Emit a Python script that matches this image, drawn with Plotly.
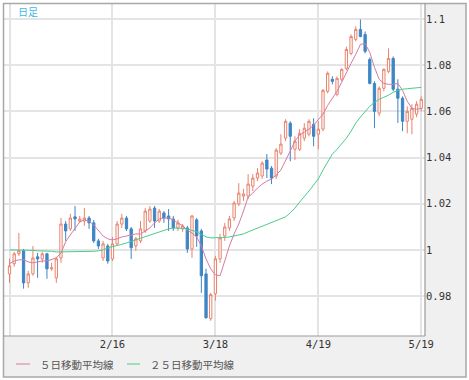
import plotly.graph_objects as go

# ---- data ----
opens = [0.9896, 0.9940, 0.9983, 0.9996, 0.9857, 0.9896, 0.9970, 0.9961, 0.9983, 0.9918,
         0.9879, 0.9965, 1.0112, 1.0091, 1.0143, 1.0125, 1.0125, 1.0138, 1.0117, 1.0039,
         0.9965, 1.0017, 0.9961, 1.0026, 1.0112, 1.0138, 1.0091, 1.0017, 1.0039, 1.0082,
         1.0125, 1.0181, 1.0125, 1.0160, 1.0147, 1.0134, 1.0095, 1.0091, 1.0095, 1.0004,
         1.0130, 1.0082, 0.9896, 0.9702, 0.9810, 0.9961, 1.0060, 1.0095, 1.0138, 1.0199,
         1.0233, 1.0233, 1.0276, 1.0311, 1.0320, 1.0389, 1.0354, 1.0320, 1.0419, 1.0484,
         1.0549, 1.0436, 1.0436, 1.0484, 1.0501, 1.0544, 1.0501, 1.0523, 1.0687, 1.0739,
         1.0674, 1.0739, 1.0786, 1.0851, 1.0912, 1.0955, 1.0933, 1.0825, 1.0721, 1.0592,
         1.0700, 1.0773, 1.0829, 1.0696, 1.0657, 1.0557, 1.0566, 1.0588, 1.0613]
highs = [0.9961, 0.9991, 1.0073, 1.0004, 0.9909, 1.0017, 0.9987, 0.9991, 0.9987, 0.9944,
         0.9970, 1.0138, 1.0125, 1.0156, 1.0190, 1.0147, 1.0181, 1.0147, 1.0130, 1.0048,
         1.0039, 1.0026, 1.0056, 1.0125, 1.0156, 1.0147, 1.0099, 1.0056, 1.0125, 1.0181,
         1.0190, 1.0190, 1.0177, 1.0168, 1.0177, 1.0147, 1.0130, 1.0112, 1.0104, 1.0151,
         1.0138, 1.0091, 0.9918, 0.9814, 0.9974, 1.0069, 1.0117, 1.0147, 1.0212, 1.0289,
         1.0264, 1.0328, 1.0328, 1.0354, 1.0384, 1.0415, 1.0363, 1.0441, 1.0501, 1.0566,
         1.0557, 1.0492, 1.0523, 1.0549, 1.0566, 1.0570, 1.0557, 1.0696, 1.0773, 1.0752,
         1.0752, 1.0786, 1.0880, 1.0933, 1.0968, 1.0998, 1.0946, 1.0834, 1.0730, 1.0708,
         1.0786, 1.0873, 1.0838, 1.0739, 1.0665, 1.0622, 1.0631, 1.0644, 1.0665]
lows = [0.9857, 0.9927, 0.9974, 0.9832, 0.9836, 0.9888, 0.9879, 0.9944, 0.9875, 0.9909,
        0.9857, 0.9944, 1.0039, 1.0082, 1.0082, 1.0117, 1.0104, 1.0091, 1.0030, 1.0004,
        0.9952, 0.9940, 0.9952, 1.0017, 1.0095, 1.0082, 0.9961, 0.9996, 1.0030, 1.0073,
        1.0117, 1.0095, 1.0117, 1.0117, 1.0082, 1.0082, 1.0082, 1.0078, 0.9987, 0.9965,
        1.0013, 0.9814, 0.9702, 0.9693, 0.9780, 0.9944, 1.0039, 1.0082, 1.0125, 1.0190,
        1.0212, 1.0220, 1.0255, 1.0298, 1.0307, 1.0311, 1.0285, 1.0307, 1.0410, 1.0471,
        1.0384, 1.0389, 1.0428, 1.0471, 1.0492, 1.0449, 1.0436, 1.0514, 1.0678, 1.0717,
        1.0665, 1.0730, 1.0778, 1.0843, 1.0903, 1.0921, 1.0851, 1.0717, 1.0527, 1.0579,
        1.0687, 1.0765, 1.0687, 1.0550, 1.0514, 1.0505, 1.0501, 1.0575, 1.0600]
closes = [0.9931, 0.9983, 0.9996, 0.9857, 0.9896, 0.9965, 0.9961, 0.9983, 0.9918, 0.9922,
          0.9961, 1.0112, 1.0082, 1.0138, 1.0134, 1.0134, 1.0138, 1.0117, 1.0039, 1.0017,
          1.0026, 0.9952, 1.0026, 1.0112, 1.0138, 1.0091, 1.0009, 1.0048, 1.0091, 1.0168,
          1.0177, 1.0125, 1.0168, 1.0138, 1.0134, 1.0095, 1.0117, 1.0104, 1.0004, 1.0147,
          1.0060, 0.9888, 0.9706, 0.9806, 0.9961, 1.0052, 1.0099, 1.0134, 1.0203, 1.0246,
          1.0242, 1.0285, 1.0311, 1.0333, 1.0376, 1.0350, 1.0311, 1.0432, 1.0458, 1.0557,
          1.0492, 1.0471, 1.0505, 1.0527, 1.0557, 1.0492, 1.0523, 1.0691, 1.0765, 1.0730,
          1.0743, 1.0782, 1.0868, 1.0924, 1.0955, 1.0924, 1.0860, 1.0721, 1.0600, 1.0700,
          1.0782, 1.0829, 1.0696, 1.0657, 1.0557, 1.0600, 1.0613, 1.0631, 1.0652]
ma5 = [0.9940, 0.9952, 0.9957, 0.9957, 0.9948, 0.9944, 0.9948, 0.9952, 0.9952, 0.9957,
       0.9965, 0.9987, 1.0035, 1.0065, 1.0095, 1.0121, 1.0130, 1.0125, 1.0108, 1.0082,
       1.0060, 1.0048, 1.0043, 1.0048, 1.0056, 1.0060, 1.0065, 1.0069, 1.0069, 1.0082,
       1.0095, 1.0117, 1.0134, 1.0138, 1.0138, 1.0130, 1.0117, 1.0104, 1.0086, 1.0073,
       1.0056, 1.0017, 0.9961, 0.9918, 0.9892, 0.9888, 0.9952, 1.0017, 1.0069, 1.0112,
       1.0168, 1.0229, 1.0246, 1.0268, 1.0285, 1.0298, 1.0307, 1.0324, 1.0346, 1.0384,
       1.0428, 1.0471, 1.0497, 1.0510, 1.0523, 1.0540, 1.0562, 1.0588, 1.0626, 1.0657,
       1.0687, 1.0726, 1.0769, 1.0808, 1.0847, 1.0890, 1.0894, 1.0855, 1.0791, 1.0739,
       1.0721, 1.0717, 1.0717, 1.0721, 1.0691, 1.0644, 1.0613, 1.0609, 1.0613]
ma25 = [1.0000, 1.0000, 1.0000, 1.0000, 1.0000, 0.9998, 0.9996, 0.9996, 0.9996, 0.9994,
        0.9991, 0.9991, 0.9991, 0.9991, 0.9991, 0.9991, 0.9991, 0.9991, 0.9994, 0.9996,
        1.0000, 1.0009, 1.0013, 1.0017, 1.0024, 1.0030, 1.0037, 1.0043, 1.0050, 1.0056,
        1.0063, 1.0069, 1.0078, 1.0084, 1.0091, 1.0095, 1.0095, 1.0093, 1.0091, 1.0084,
        1.0078, 1.0067, 1.0056, 1.0052, 1.0052, 1.0052, 1.0054, 1.0056, 1.0060, 1.0065,
        1.0069, 1.0078, 1.0086, 1.0095, 1.0104, 1.0110, 1.0117, 1.0125, 1.0134, 1.0143,
        1.0160, 1.0181, 1.0207, 1.0229, 1.0255, 1.0281, 1.0307, 1.0346, 1.0380, 1.0415,
        1.0436, 1.0458, 1.0484, 1.0514, 1.0549, 1.0575, 1.0600, 1.0622, 1.0639, 1.0652,
        1.0661, 1.0670, 1.0683, 1.0691, 1.0696, 1.0698, 1.0700, 1.0702, 1.0704]

series_names = ["５日移動平均線", "２５日移動平均線"]
period_label = "日足"
x_tick_pos = [0, 22, 44, 66, 88]
x_tick_labels = ["", "2/16", "3/18", "4/19", "5/19"]
y_tick_vals = [1.1, 1.08, 1.06, 1.04, 1.02, 1.0, 0.98]
y_tick_labels = ["1.1", "1.08", "1.06", "1.04", "1.02", "1", "0.98"]

n = len(opens)
assert all(len(a) == n for a in (highs, lows, closes, ma5, ma25)), [len(a) for a in (opens, highs, lows, closes, ma5, ma25)]
xs = list(range(n))

UP = "#e8836c"
DOWN = "#3d86c6"
MA5_C = "#d57ba3"
MA25_C = "#4ccb8c"

fig = go.Figure()
fig.add_trace(go.Candlestick(
    x=xs, open=opens, high=highs, low=lows, close=closes,
    increasing=dict(line=dict(color=UP, width=1), fillcolor="white"),
    decreasing=dict(line=dict(color=DOWN, width=1), fillcolor=DOWN),
    whiskerwidth=0, showlegend=False, hoverinfo="skip"))
fig.add_trace(go.Scatter(x=xs, y=ma5, mode="lines", line=dict(color=MA5_C, width=1),
                         name=series_names[0], showlegend=False, hoverinfo="skip"))
fig.add_trace(go.Scatter(x=xs, y=ma25, mode="lines", line=dict(color=MA25_C, width=1),
                         name=series_names[1], showlegend=False, hoverinfo="skip"))

# pixel -> paper helpers (plot area: x 4..425, y 4..336)
L, R, T, B = 4, 425, 4, 336
def px(xp):
    return (xp - L) / (R - L)
def py(yp):
    return (B - yp) / (B - T)

shapes = [
    dict(type="rect", xref="paper", yref="paper", x0=px(R), x1=px(466), y0=py(377), y1=py(3),
         fillcolor="#f0f0f0", line=dict(width=0), layer="below"),
    dict(type="rect", xref="paper", yref="paper", x0=px(3), x1=px(466), y0=py(377), y1=py(B),
         fillcolor="#f0f0f0", line=dict(width=0), layer="below"),
    dict(type="rect", xref="paper", yref="paper", x0=px(3.5), x1=px(466), y0=py(377), y1=py(3.5),
         fillcolor="rgba(0,0,0,0)", line=dict(color="#a8a8a8", width=1.5)),
    dict(type="line", xref="paper", yref="paper", x0=px(R), x1=px(R), y0=py(B), y1=py(3.5),
         line=dict(color="#9a9a9a", width=1.2)),
    dict(type="line", xref="paper", yref="paper", x0=px(3.5), x1=px(R), y0=py(B), y1=py(B),
         line=dict(color="#9a9a9a", width=1.2)),
    dict(type="line", xref="paper", yref="paper", x0=px(16), x1=px(30), y0=py(364), y1=py(364),
         line=dict(color=MA5_C, width=1)),
    dict(type="line", xref="paper", yref="paper", x0=px(127), x1=px(140), y0=py(364), y1=py(364),
         line=dict(color=MA25_C, width=1)),
]

annotations = [
    dict(text=period_label, xref="paper", yref="paper", x=px(16), y=py(12), xanchor="left",
         yanchor="middle", showarrow=False,
         font=dict(family="Noto Sans CJK JP", size=10, color="#45b6ea")),
    dict(text=series_names[0], xref="paper", yref="paper", x=px(38), y=py(364), xanchor="left",
         yanchor="middle", showarrow=False,
         font=dict(family="Noto Sans CJK JP", size=10.5, color="#555555")),
    dict(text=series_names[1], xref="paper", yref="paper", x=px(148), y=py(364), xanchor="left",
         yanchor="middle", showarrow=False,
         font=dict(family="Noto Sans CJK JP", size=10.5, color="#555555")),
]

fig.update_layout(
    width=469, height=380,
    margin=dict(l=L, r=469 - R, t=T, b=380 - B, pad=0),
    paper_bgcolor="white", plot_bgcolor="white",
    showlegend=False,
    shapes=shapes, annotations=annotations,
    xaxis=dict(range=[-1.18, 88.8], rangeslider=dict(visible=False),
               tickmode="array", tickvals=x_tick_pos, ticktext=x_tick_labels,
               showgrid=True, gridcolor="#e4e4e4", gridwidth=1.5, zeroline=False,
               showline=False, ticks="", automargin=False,
               tickfont=dict(family="DejaVu Sans Mono", size=10.5, color="#333333")),
    yaxis=dict(range=[0.9627, 1.1065], side="right",
               tickmode="array", tickvals=y_tick_vals, ticktext=y_tick_labels,
               showgrid=True, gridcolor="#e4e4e4", gridwidth=2, zeroline=False,
               showline=False, ticks="", automargin=False,
               tickfont=dict(family="DejaVu Sans Mono", size=10.5, color="#333333")),
)

fig.write_html("out.html", config={"displayModeBar": False},
               post_script="document.body.style.margin='0';document.body.style.padding='0';")
